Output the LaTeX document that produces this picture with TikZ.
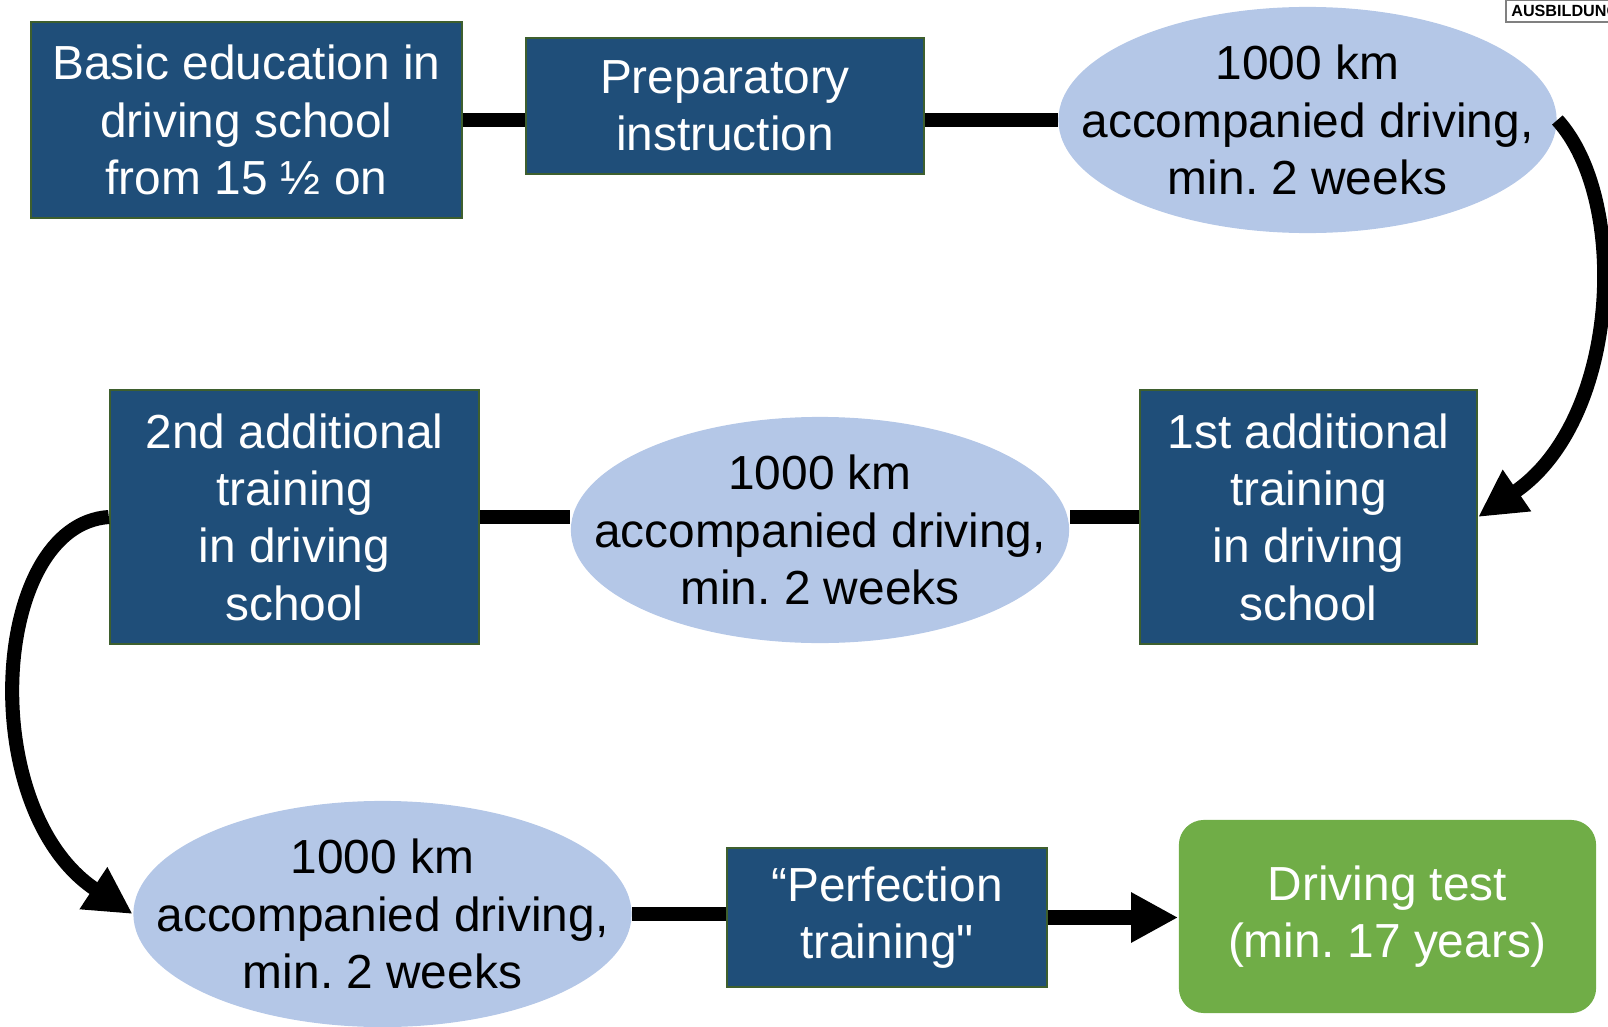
\documentclass[tikz,border=0pt]{standalone}
\usepackage{fontspec}
\newfontfamily\labelfont{Liberation Sans}
\usetikzlibrary{positioning,calc,arrows.meta,shapes.geometric}
\definecolor{boxblue}{HTML}{1F4E79}
\definecolor{boxedge}{HTML}{3E5F2E}
\definecolor{lightblue}{HTML}{B4C7E7}
\definecolor{testgreen}{HTML}{70AD47}
\frenchspacing

\begin{document}
\begin{tikzpicture}[x=0.01cm, y=-0.01cm]
	\useasboundingbox (0,0) rectangle (1608,1027);
	\begin{scope}
		\tikzstyle{every node}=[align=center, inner sep=1pt, font=\labelfont\fontsize{13.6}{16.3}\selectfont]
		\tikzstyle{darkbox}=[draw=boxedge, line width=0.6pt, fill=boxblue, text=white]
		\tikzstyle{kmellipse}=[ellipse, fill=lightblue, inner xsep=-0.6cm, inner ysep=-0.1cm, minimum width=4.98cm, minimum height=2.26cm]
		\tikzstyle{link}=[line width=4pt]
		\tikzstyle{bigarrow}=[line width=4pt, -{Triangle[length=0.47cm, width=0.47cm]}]

		% first row
		\node[darkbox, minimum width=4.31cm, minimum height=1.95cm] (basic) at (246.5, 120) {Basic education in\\driving school\\from 15 ½ on};
		\node[darkbox, minimum width=3.98cm, minimum height=1.36cm] (prep) at (725, 106) {Preparatory\\instruction};
		\node[kmellipse] (kmone) at (1307.5, 120) {1000 km\\accompanied driving,\\min. 2 weeks};

		% second row
		\node[darkbox, minimum width=3.37cm, minimum height=2.54cm] (addone) at (1308.5, 517) {1st additional\\training\\in driving\\school};
		\node[kmellipse] (kmtwo) at (820, 530) {1000 km\\accompanied driving,\\min. 2 weeks};
		\node[darkbox, minimum width=3.69cm, minimum height=2.54cm] (addtwo) at (294.5, 517) {2nd additional\\training\\in driving\\school};

		% third row
		\node[kmellipse] (kmthree) at (382.5, 914) {1000 km\\accompanied driving,\\min. 2 weeks};
		\node[darkbox, minimum width=3.2cm, minimum height=1.39cm] (perf) at (887, 917.5) {“Perfection\\training"};
		\node[fill=testgreen, text=white, rounded corners=0.25cm, minimum width=4.17cm, minimum height=1.93cm] (test) at (1387.5, 916.5) {Driving test\\(min. 17 years)};

		\node[draw=gray, line width=0.6pt, anchor=north west, inner sep=1.5pt, minimum height=0.19cm, font=\labelfont\bfseries\fontsize{4.6}{5}\selectfont] (corner) at (1505, -1) {AUSBILDUNG};

		\draw [link] (basic.east) to (basic.east -| prep.west);
		\draw [link] (prep.east |- kmone.west) to (kmone.west);
		\draw [bigarrow] (kmone.east) .. controls (1630, 200) and (1620, 420) .. (addone.east);
		\draw [link] (addone.west) to (addone.west -| kmtwo.east);
		\draw [link] (addtwo.east) to (addtwo.east -| kmtwo.west);
		\draw [bigarrow] (addtwo.west) .. controls (-10, 525) and (-25, 810) .. (kmthree.west);
		\draw [link] (kmthree.east) to (kmthree.east -| perf.west);
		\draw [bigarrow] (perf.east) to (perf.east -| test.west);
	\end{scope}
\end{tikzpicture}
\end{document}
